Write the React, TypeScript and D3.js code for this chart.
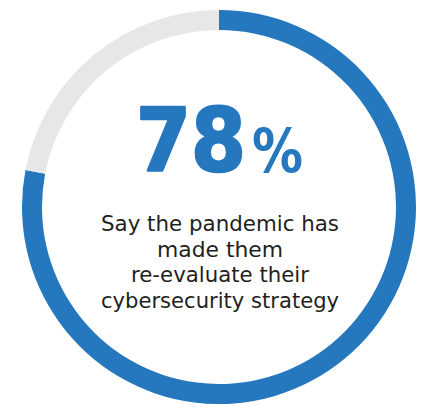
import React from "react";
import * as d3 from "d3";

const W = 426;
const H = 404;

const segmentNames = ["Yes", "Rest"];
const segmentValues = [78, 22];
const headline = "78";
const headlineUnit = "%";
const captionLines = [
  "Say the pandemic has",
  "made them",
  "re-evaluate their",
  "cybersecurity strategy",
];
const captionWidths = [238, 126, 178, 238];

const BLUE = "#2577BE";
const GRAY = "#E6E7E8";
const TEXT = "#231F20";

export default function App() {
  const cx = 219;
  const cy = 207;
  const pie = d3
    .pie<number>()
    .sort(null)
    .value((d) => d)
    .startAngle(0)
    .endAngle(2 * Math.PI);
  const arcs = pie(segmentValues);
  const arc = d3.arc<d3.PieArcDatum<number>>().innerRadius(177).outerRadius(197);
  const colors = d3.scaleOrdinal<string, string>().domain(segmentNames).range([BLUE, GRAY]);

  const lineY = d3.scaleLinear().domain([0, captionLines.length - 1]).range([231, 307.5]);

  return (
    <svg
      width={W}
      height={H}
      style={{ position: "absolute", left: 0, top: 0, display: "block", background: "#fff" }}
    >
      <g transform={`translate(${cx},${cy})`}>
        {arcs.map((a, i) => (
          <path key={i} d={arc(a) || ""} fill={colors(segmentNames[i])} />
        ))}
      </g>
      <text
        x={246}
        y={171}
        textAnchor="end"
        fontFamily="'DejaVu Sans', sans-serif"
        fontWeight={700}
        fontSize={87}
        fill={BLUE}
        stroke={BLUE}
        strokeWidth={2.5}
        strokeLinejoin="round"
        textLength={110}
        lengthAdjust="spacingAndGlyphs"
      >
        {headline}
      </text>
      <text
        x={252}
        y={172}
        fontFamily="'DejaVu Sans', sans-serif"
        fontWeight={700}
        fontSize={60}
        fill={BLUE}
        textLength={51}
        lengthAdjust="spacingAndGlyphs"
      >
        {headlineUnit}
      </text>
      {captionLines.map((t, i) => (
        <text
          key={t}
          x={220}
          y={lineY(i)}
          textAnchor="middle"
          fontFamily="'DejaVu Sans', sans-serif"
          fontSize={21}
          fill={TEXT}
          textLength={captionWidths[i]}
          lengthAdjust="spacingAndGlyphs"
        >
          {t}
        </text>
      ))}
    </svg>
  );
}
